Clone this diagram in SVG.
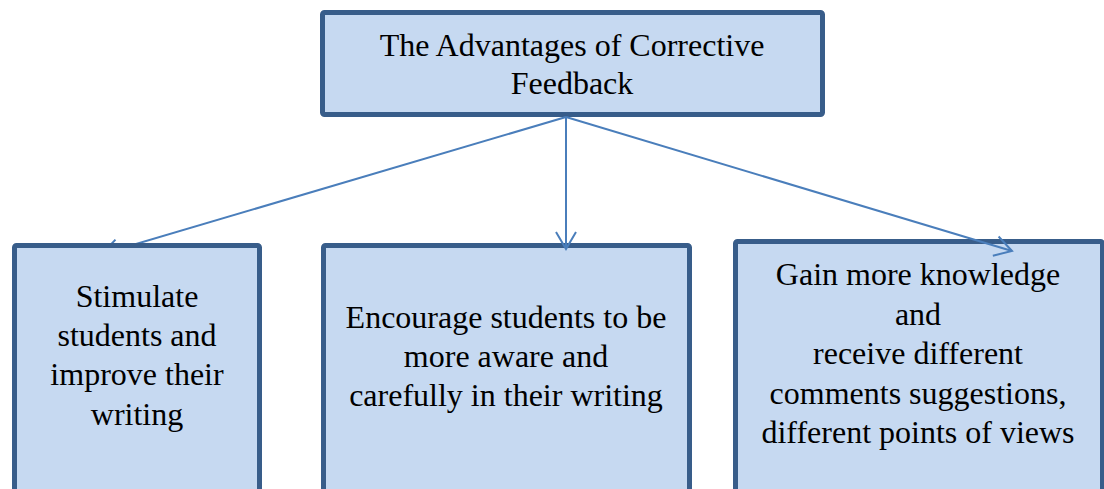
<svg xmlns="http://www.w3.org/2000/svg" width="1104" height="489" viewBox="0 0 1104 489">
<style>
.box{fill:#c6d9f1;stroke:#385d8a;stroke-width:5}
.t{font-family:"Liberation Serif","Times New Roman",serif;font-size:32px;fill:#000;text-anchor:middle}
.c{fill:none;stroke:#4a7ebb;stroke-width:2}
</style>
<defs>
<marker id="arr" markerUnits="userSpaceOnUse" markerWidth="30" markerHeight="30" viewBox="-20 -15 25 30" refX="0" refY="0" orient="auto" overflow="visible">
<path d="M-17,-10 L0,0 L-17,10" fill="none" stroke="#4a7ebb" stroke-width="2"/>
</marker>
<clipPath id="above"><rect x="0" y="0" width="1104" height="243"/></clipPath>
</defs>
<rect width="1104" height="489" fill="#fff"/>
<g id="top">
<rect class="box" x="322.5" y="12.5" width="500" height="102" rx="2"/>
<text class="t" x="572" y="56">The Advantages of Corrective</text>
<text class="t" x="572" y="94">Feedback</text>
</g>
<g id="left">
<rect class="box" x="14.5" y="245.5" width="245" height="260" rx="2"/>
<text class="t" x="137" y="307">Stimulate</text>
<text class="t" x="137" y="346">students and</text>
<text class="t" x="137" y="385">improve their</text>
<text class="t" x="137" y="425">writing</text>
</g>
<g id="middle">
<rect class="box" x="323.5" y="245.5" width="366" height="260" rx="2"/>
<text class="t" x="506" y="328">Encourage students to be</text>
<text class="t" x="506" y="367">more aware and</text>
<text class="t" x="506" y="406">carefully in their writing</text>
</g>
<g id="right">
<rect class="box" x="735.5" y="241.5" width="367" height="264" rx="2"/>
<text class="t" x="918" y="285">Gain more knowledge</text>
<text class="t" x="918" y="324.5">and</text>
<text class="t" x="918" y="364">receive different</text>
<text class="t" x="918" y="403.5">comments suggestions,</text>
<text class="t" x="918" y="443">different points of views</text>
</g>
<g id="connectors">
<path class="c" d="M566,117 L102,254" marker-end="url(#arr)" clip-path="url(#above)"/>
<path class="c" d="M566,117 L566,249" marker-end="url(#arr)"/>
<path class="c" d="M566,117 L1012,251" marker-end="url(#arr)"/>
</g>
</svg>
